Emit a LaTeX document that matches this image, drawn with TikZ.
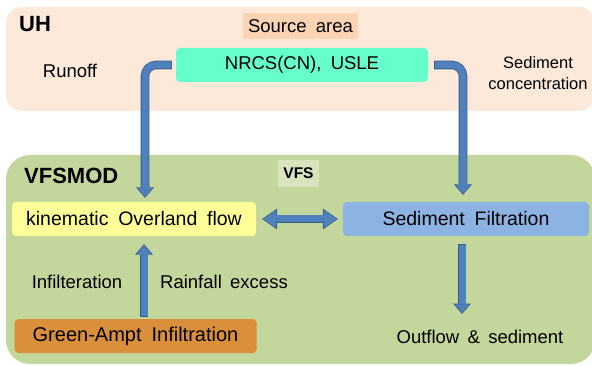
\documentclass[tikz,border=0pt]{standalone}
\usepackage{fontspec}
\setmainfont{Liberation Sans}
\usetikzlibrary{arrows.meta}

\definecolor{uhfill}{HTML}{FDE9D9}
\definecolor{sourcefill}{HTML}{FBD4B4}
\definecolor{nrcsfill}{HTML}{66FFCC}
\definecolor{vfsmodfill}{HTML}{C3D69B}
\definecolor{vfsfill}{HTML}{D7E4BD}
\definecolor{kinfill}{HTML}{FFFF99}
\definecolor{sedfill}{HTML}{8DB3E2}
\definecolor{greenfill}{HTML}{DA903A}
\definecolor{arrowfill}{HTML}{4F81BD}
\definecolor{arrowline}{HTML}{385D8A}

\begin{document}
\begin{tikzpicture}[x=1pt, y=-1pt,
    title/.style={anchor=west, inner sep=0pt, font=\fontsize{22}{26}\selectfont\bfseries},
    box/.style={rounded corners=4pt, inner sep=0pt, font=\fontsize{19.5}{22}\selectfont,
      execute at begin node={\spaceskip=0.5em\relax}},
    txt/.style={inner sep=0pt, font=\fontsize{18.5}{21}\selectfont,
      execute at begin node={\spaceskip=0.45em\relax}},
    flowarrow/.style={draw=arrowfill, line width=7pt, rounded corners=11pt,
      shorten <=0.8pt, shorten >=1.2pt, -{Triangle[length=8.5pt,width=14.5pt,line width=0pt]},
      preaction={draw=arrowline, line width=8.6pt, shorten <=0pt, shorten >=0pt,
        -{Triangle[length=10.5pt,width=18pt,line width=0pt]}}},
    dblarrow/.style={draw=arrowfill, line width=7pt, shorten <=1.4pt, shorten >=1.4pt,
      {Triangle[length=12.8pt,width=18pt,line width=0pt]}-{Triangle[length=12.8pt,width=18pt,line width=0pt]},
      preaction={draw=arrowline, line width=8.6pt, shorten <=0pt, shorten >=0pt,
        {Triangle[length=15pt,width=21pt,line width=0pt]}-{Triangle[length=15pt,width=21pt,line width=0pt]}}}]

  \useasboundingbox (0,0) rectangle (592,366);

  % the two areas
  \fill[uhfill, rounded corners=16pt] (6,7) rectangle (595,111);
  \fill[vfsmodfill, rounded corners=24pt] (6,155) rectangle (595,364);

  % UH
  \node[title] (uh) at (19,24) {UH};
  \node[box, rounded corners=0pt, fill=sourcefill, minimum width=115pt, minimum height=26pt,
    font=\fontsize{18.5}{21}\selectfont] (source) at (300.5,26) {Source area};
  \node[box, fill=nrcsfill, minimum width=252pt, minimum height=34pt,
    font=\fontsize{18.5}{21}\selectfont] (nrcs) at (302,65) {NRCS(CN), USLE};
  \node[txt] (runoff) at (70,71) {Runoff};
  \node[txt, align=center, font=\fontsize{16.5}{21}\selectfont] (conc) at (538,73) {Sediment\\concentration};

  % VFSMOD
  \node[title] (vfsmod) at (24,176) {VFSMOD};
  \node[fill=vfsfill, minimum width=41pt, minimum height=27pt, inner sep=0pt,
    font=\fontsize{15.5}{18}\selectfont\bfseries] (vfs) at (298.5,173.5) {VFS};
  \node[box, fill=kinfill, minimum width=244pt, minimum height=34pt] (kin) at (134,219) {kinematic Overland flow};
  \node[box, fill=sedfill, minimum width=246pt, minimum height=34pt] (sed) at (466,219) {Sediment Filtration};
  \node[box, fill=greenfill, minimum width=242pt, minimum height=34pt,
    font=\fontsize{20}{22}\selectfont] (green) at (135.5,336) {Green-Ampt Infiltration};
  \node[txt] (infil) at (77,282) {Infilteration};
  \node[txt] (rain) at (224,282) {Rainfall excess};
  \node[txt] (outflow) at (480,337) {Outflow \& sediment};
  \coordinate (outtip) at (462,314);

  % arrows
  \draw[flowarrow] ([xshift=-4pt]nrcs.west) -| ([xshift=11pt,yshift=4pt]kin.north);
  \draw[flowarrow] ([xshift=6pt]nrcs.east) -| ([xshift=-3pt,yshift=7pt]sed.north);
  \draw[dblarrow] ([xshift=6pt]kin.east) -- ([xshift=-5pt]sed.west);
  \draw[flowarrow] ([xshift=8.5pt,yshift=2pt]green.north) -- ([xshift=10pt,yshift=-8pt]kin.south);
  \draw[flowarrow] ([xshift=-4pt,yshift=-8pt]sed.south) -- (outtip);
\end{tikzpicture}
\end{document}
